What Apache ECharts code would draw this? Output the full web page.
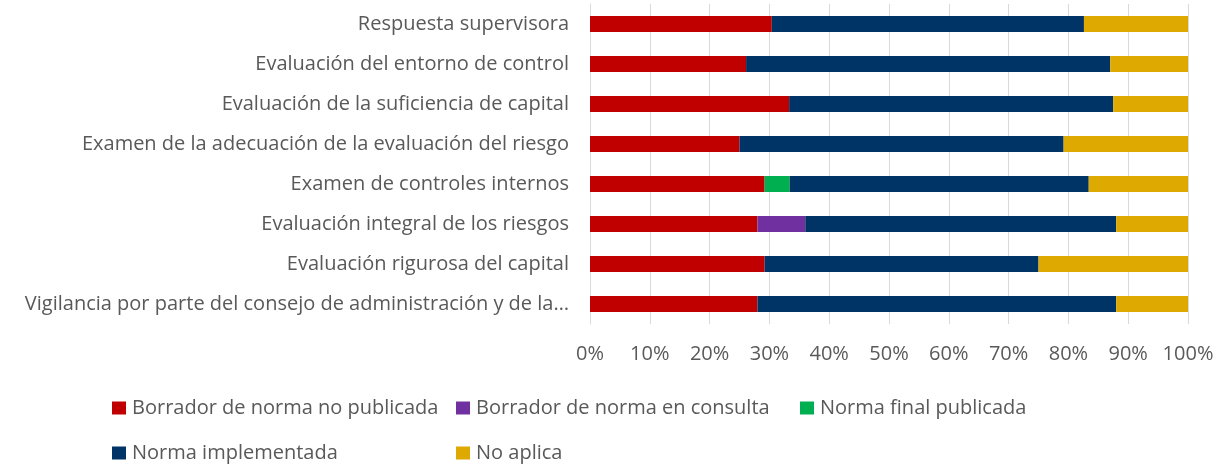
<!DOCTYPE html>
<html lang="es">
  <head>
    <meta charset="UTF-8" />
    <title>Estado de implementación</title>
    <script src="https://cdn.jsdelivr.net/npm/echarts@6/dist/echarts.min.js"></script>
    <style>
      html, body { margin: 0; padding: 0; background: #fff; }
      #main { width: 1222px; height: 466px; }
    </style>
  </head>
  <body>
    <div id="main"></div>
    <script>
      // categorias (de arriba abajo)
      var categorias = [
        "Respuesta supervisora",
        "Evaluación del entorno de control",
        "Evaluación de la suficiencia de capital",
        "Examen de la adecuación de la evaluación del riesgo",
        "Examen de controles internos",
        "Evaluación integral de los riesgos",
        "Evaluación rigurosa del capital",
        "Vigilancia por parte del consejo de administración y de la…"
      ];
      var nombres = [
        "Borrador de norma no publicada",
        "Borrador de norma en consulta",
        "Norma final publicada",
        "Norma implementada",
        "No aplica"
      ];
      // porcentajes
      var noPublicada = [30.4, 26.1, 33.3, 25.0, 29.2, 28.0, 29.2, 28.0];
      var enConsulta = [0, 0, 0, 0, 0, 8.0, 0, 0];
      var finalPublicada = [0, 0, 0, 0, 4.2, 0, 0, 0];
      var implementada = [52.2, 60.9, 54.2, 54.2, 50.0, 52.0, 45.8, 60.0];
      var noAplica = [17.4, 13.0, 12.5, 20.8, 16.7, 12.0, 25.0, 12.0];

      var colores = ["#C00000", "#7030A0", "#00B050", "#003366", "#DEA900"];
      var valores = [noPublicada, enConsulta, finalPublicada, implementada, noAplica];
      var fuente = "Open Sans";
      var gris = "#595959";
      var tam = 20;

      var series = valores.map(function (v, i) {
        return {
          name: nombres[i],
          type: "bar",
          stack: "total",
          barWidth: 16,
          itemStyle: { color: colores[i] },
          emphasis: { disabled: true },
          data: v
        };
      });

      // posiciones de la leyenda (dos filas, estilo Excel)
      var posLeyenda = [
        { left: 112, top: 398 },
        { left: 456, top: 398 },
        { left: 800, top: 398 },
        { left: 112, top: 443 },
        { left: 456, top: 443 }
      ];
      var leyendas = nombres.map(function (n, i) {
        return {
          data: [n],
          left: posLeyenda[i].left,
          top: posLeyenda[i].top,
          padding: 0,
          icon: "rect",
          itemWidth: 14,
          itemHeight: 13,
          itemGap: 0,
          selectedMode: false,
          textStyle: { color: gris, fontSize: tam, fontFamily: fuente, padding: [0, 0, 0, 1] }
        };
      });

      var myChart = echarts.init(document.getElementById("main"));
      var option = {
        animation: false,
        legend: leyendas,
        grid: { left: 590, right: 34, top: 4, height: 320, containLabel: false },
        xAxis: {
          type: "value",
          min: 0,
          max: 100,
          interval: 10,
          axisLine: { show: false },
          axisTick: { show: false },
          splitLine: { lineStyle: { color: "#d9d9d9", width: 1 } },
          axisLabel: {
            color: gris,
            fontSize: tam,
            fontFamily: fuente,
            margin: 20,
            formatter: function (v) { return v + "%"; }
          }
        },
        yAxis: {
          type: "category",
          inverse: true,
          data: categorias,
          axisLine: { show: true, lineStyle: { color: "#d9d9d9" } },
          axisTick: { show: false },
          axisLabel: { color: gris, fontSize: tam, fontFamily: fuente, margin: 21 }
        },
        series: series
      };
      myChart.setOption(option);
    </script>
  </body>
</html>
